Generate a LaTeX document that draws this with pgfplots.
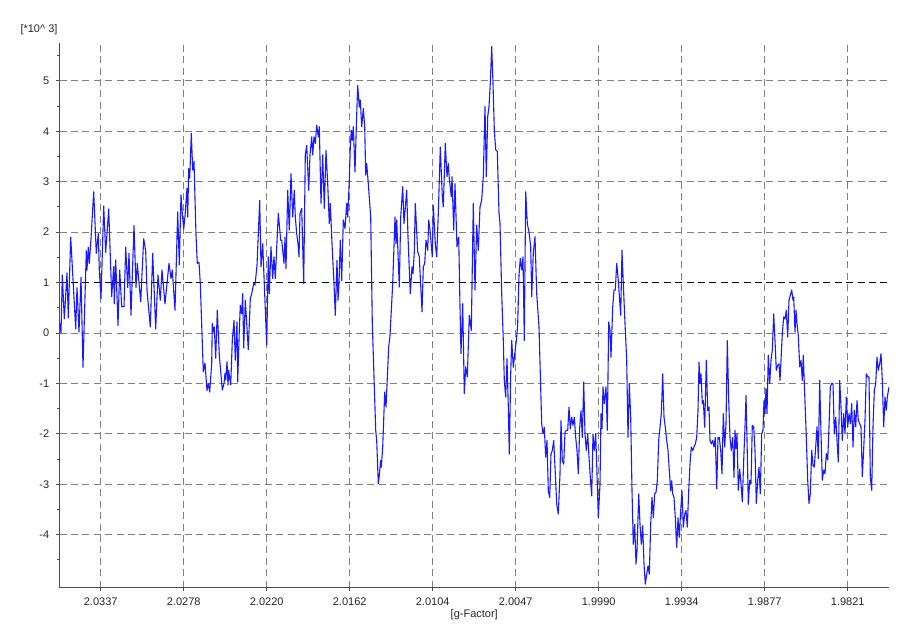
\documentclass[border=0pt]{standalone}
\usepackage{fontspec}
\setmainfont{Liberation Sans}
\usepackage{pgfplots}
\pgfplotsset{compat=1.18}
\definecolor{sig}{RGB}{25,25,255}
\begin{document}
\begin{tikzpicture}
\begin{axis}[
  scale only axis,
  width=414.75pt, height=272.35pt,
  xmin=0, xmax=829.5, ymin=-5.05, ymax=5.75,
  clip mode=individual,
  axis x line=bottom, axis y line=left,
  axis line style={-, black!70, line width=0.6pt},
  xtick={41.2,124.2,207.2,290.2,373.2,456.2,539.2,622.2,705.2,788.2},
  xticklabels={2.0337,2.0278,2.0220,2.0162,2.0104,2.0047,1.9990,1.9934,1.9877,1.9821},
  ytick={-4,-3,-2,-1,0,1,2,3,4,5},
  yticklabels={-4,-3,-2,-1,0,1,2,3,4,5},
  minor ytick={-4.5,-3.5,-2.5,-1.5,-0.5,0.5,1.5,2.5,3.5,4.5,5.5},
  tick align=outside, major tick length=1.6pt, minor tick length=1.3pt,
  tick style={black!70, line width=0.5pt},
  grid=major,
  major grid style={black!50, dash pattern=on 3.5pt off 2.2pt, line width=0.5pt},
  tick label style={font=\fontsize{5.5}{6.6}\selectfont, text=black!85},
  xlabel={[g-Factor]},
  xlabel style={font=\fontsize{5.5}{6.6}\selectfont, text=black!85, yshift=5pt},
]
\draw[black, dash pattern=on 3.5pt off 2.2pt, line width=0.5pt] (axis cs:0,1) -- (axis cs:829.5,1);
\addplot[color=sig, line width=0.55pt, line join=round, mark=none] table {
x y
0.5 0.19
1.5 0.00
2.8 1.15
4.8 0.28
7.5 1.19
8.8 0.30
11.2 1.90
16.2 0.08
17.5 0.90
19.5 0.02
21.5 1.10
23.5 -0.68
26.8 1.63
27.5 1.25
28.8 1.70
29.8 1.38
31.5 1.87
34.2 2.80
36.8 1.58
38.8 1.97
39.8 1.25
41.5 0.68
44.2 2.52
46.2 1.60
49.2 2.46
52.2 0.72
54.2 1.32
54.8 0.58
56.2 1.45
58.5 0.15
60.2 1.25
62.2 0.52
64.5 0.52
66.2 1.70
68.2 0.90
69.5 1.58
71.5 0.35
74.5 2.13
76.5 0.90
77.8 1.38
81.2 0.62
84.2 1.87
86.2 1.62
87.5 0.85
90.8 0.12
93.2 1.58
96.2 0.08
98.5 1.15
100.8 0.65
102.5 1.25
105.5 0.58
109.5 1.38
111.5 1.08
112.8 1.25
115.5 0.45
118.2 2.40
119.8 1.35
121.5 2.74
122.8 2.37
124.2 2.06
125.5 2.32
127.5 2.87
128.2 2.30
129.2 3.26
130.2 3.07
131.8 3.96
133.2 3.23
134.5 3.40
136.5 1.94
137.8 1.38
139.5 1.40
140.8 0.98
143.8 -0.77
145.5 -0.60
147.5 -1.14
148.8 -1.00
150.2 -1.17
152.2 -0.60
152.8 0.19
153.8 0.02
154.8 0.12
156.2 -0.50
157.8 0.45
159.8 -0.44
162.8 -1.13
164.5 -1.00
165.5 -0.80
166.2 -0.93
167.5 -0.57
168.5 -1.03
169.2 -0.74
170.2 -0.90
171.2 -1.03
172.8 -0.15
174.5 0.25
175.8 -0.54
177.5 0.22
178.2 -0.97
179.8 0.05
180.8 0.55
182.2 0.38
183.2 0.78
184.2 -0.30
185.8 0.65
188.8 -0.33
190.8 0.68
192.2 0.78
194.2 0.98
195.5 0.95
197.5 1.34
200.2 2.63
201.5 1.31
203.2 1.77
205.5 0.62
207.2 -0.24
208.8 1.51
209.8 0.78
211.5 1.71
213.2 1.08
214.5 1.51
215.8 1.08
218.8 2.37
221.2 1.84
222.2 1.84
224.5 1.38
225.5 1.90
226.5 1.28
228.2 2.83
229.8 2.04
231.5 3.16
233.2 2.30
234.8 2.83
235.8 2.30
237.2 1.97
238.5 1.77
239.5 1.51
240.5 2.37
242.2 2.47
244.2 0.98
245.8 3.53
247.2 3.72
249.2 2.83
250.5 3.53
252.2 3.89
253.2 3.53
254.5 3.89
255.8 3.76
257.2 4.12
258.8 3.89
259.8 4.09
261.5 2.57
263.2 3.53
264.8 2.47
266.5 3.62
268.2 2.96
269.8 2.17
270.8 2.57
272.5 1.77
274.5 0.98
275.8 0.35
277.5 1.44
278.5 0.65
279.5 0.98
280.8 1.84
282.2 1.04
283.8 2.24
285.5 2.07
287.2 2.57
288.2 2.30
289.8 3.03
290.8 3.69
291.8 4.02
292.8 3.82
293.8 4.09
295.5 3.19
296.8 4.09
298.2 4.91
299.8 4.48
300.8 4.62
302.2 4.09
303.8 4.45
305.2 4.09
306.2 3.13
307.2 3.36
308.8 2.96
311.2 2.30
312.8 0.19
316.2 -1.93
317.2 -2.13
318.8 -2.99
319.8 -2.82
321.2 -2.53
321.8 -2.66
323.2 -2.26
325.2 -1.17
326.5 -1.47
329.2 -0.28
330.5 -0.05
333.2 0.98
335.5 2.30
336.5 1.77
337.2 2.24
339.8 0.91
341.2 2.30
343.2 2.90
344.5 2.17
347.2 2.83
348.5 1.90
350.8 0.78
352.5 1.31
353.5 1.18
354.8 1.61
355.8 2.57
358.2 1.61
359.8 1.51
362.5 0.42
363.8 1.31
365.2 1.38
366.5 1.84
368.2 1.64
369.2 2.24
370.5 2.04
372.8 1.51
373.8 2.53
375.8 1.77
377.2 1.51
378.8 2.37
380.8 3.69
382.8 2.70
383.8 2.50
385.8 3.76
387.5 3.10
388.8 3.36
389.8 3.06
391.8 2.70
392.5 3.10
394.2 2.04
395.5 2.96
397.5 1.71
399.2 1.90
400.5 0.52
401.5 -0.41
403.2 0.58
404.8 -1.20
406.2 -0.67
407.8 -0.87
409.8 0.35
411.8 0.05
413.8 2.57
415.5 0.85
417.2 2.14
418.8 1.64
420.5 2.50
422.2 2.64
423.8 3.10
425.5 4.49
426.8 3.10
428.2 4.29
429.5 4.49
430.8 4.95
432.2 5.68
433.5 4.95
434.8 4.03
436.2 3.63
437.8 3.60
439.5 2.37
440.5 2.17
442.2 0.78
443.8 -0.15
444.8 -0.94
446.2 -1.27
447.5 -0.51
448.8 -1.47
449.8 -2.40
451.2 -0.81
452.2 -0.15
453.8 -0.68
455.5 -0.38
457.2 -0.08
458.2 0.19
459.5 1.15
460.8 1.48
462.2 1.25
463.5 1.51
464.8 -0.15
466.2 2.80
467.8 2.17
469.5 2.00
471.2 1.71
472.2 0.72
473.8 1.58
475.5 1.91
477.2 0.78
479.5 0.12
482.2 -1.80
483.5 -2.00
484.8 -1.87
486.2 -2.46
487.5 -2.13
488.8 -3.13
490.2 -3.26
491.5 -2.40
492.8 -2.33
494.2 -2.13
495.5 -2.66
497.2 -3.39
498.8 -3.59
500.5 -2.79
501.5 -1.74
502.8 -2.53
504.2 -2.60
505.5 -1.97
506.8 -1.93
508.2 -1.93
509.5 -1.47
510.8 -1.90
512.2 -1.67
513.5 -1.83
514.8 -1.67
516.2 -2.07
517.5 -2.33
518.8 -2.79
520.2 -1.87
521.5 -1.54
522.8 -2.07
524.2 -0.97
525.5 -2.00
526.8 -2.33
528.2 -2.00
529.5 -2.46
530.8 -2.86
532.2 -3.23
533.5 -2.00
534.8 -2.33
536.2 -2.00
537.5 -2.79
538.8 -3.66
540.5 -3.00
541.5 -1.60
542.5 -1.90
543.5 -1.07
544.8 -1.40
546.5 -1.07
547.8 -1.93
549.2 0.22
550.5 0.05
551.5 -0.48
553.2 0.52
554.5 0.85
555.8 0.85
557.2 1.38
558.5 1.11
559.8 0.75
561.2 0.35
562.5 1.64
563.8 0.98
565.2 0.32
567.2 -0.54
568.5 -2.07
569.8 -1.00
571.2 -1.67
572.5 -3.13
573.8 -4.19
575.2 -3.79
576.5 -4.58
577.5 -4.32
579.2 -3.19
580.5 -3.79
581.8 -4.19
583.2 -3.82
584.5 -4.58
585.8 -4.98
587.2 -4.78
588.5 -4.62
589.8 -4.78
591.2 -3.79
592.5 -3.26
593.8 -3.66
595.2 -3.19
596.5 -3.16
597.8 -2.93
599.2 -2.13
600.5 -1.87
601.8 -1.60
603.2 -0.81
604.5 -1.67
605.8 -1.87
607.2 -2.13
608.5 -2.33
609.8 -2.73
611.2 -3.13
612.2 -2.93
613.2 -3.19
614.5 -3.26
615.8 -3.66
617.2 -4.25
618.5 -3.66
619.8 -4.05
621.2 -3.52
622.5 -3.13
623.8 -3.85
625.2 -3.59
626.5 -3.52
627.8 -3.85
629.2 -3.13
630.5 -2.60
631.8 -2.26
633.2 -2.33
634.5 -2.26
635.8 -2.20
637.2 -2.07
638.5 -1.54
639.5 -0.58
640.5 -1.00
641.5 -0.81
642.8 -1.40
643.8 -1.34
645.2 -1.87
646.8 -0.54
648.2 -1.54
649.5 -1.47
650.5 -2.13
651.8 -2.20
653.2 -2.13
654.5 -2.26
655.8 -2.07
657.2 -3.09
658.5 -2.07
659.8 -2.07
661.2 -2.33
662.5 -2.79
663.8 -1.60
665.2 -2.26
666.5 -1.80
667.8 -0.15
669.2 -1.34
670.5 -2.07
671.8 -2.33
673.2 -2.07
674.5 -2.86
675.5 -1.93
676.5 -2.29
677.5 -2.00
678.8 -3.12
680.2 -2.70
681.5 -2.99
682.8 -3.35
684.2 -2.52
685.5 -1.86
686.5 -1.24
687.8 -2.39
688.8 -3.40
690.2 -2.92
691.5 -2.99
692.8 -1.83
694.2 -1.86
695.5 -2.33
696.8 -3.38
698.2 -2.92
699.5 -2.66
700.8 -3.19
702.2 -2.00
703.5 -1.93
704.5 -1.34
705.5 -1.60
706.5 -1.10
707.5 -1.60
708.8 -0.44
710.2 -1.00
711.5 -0.54
712.8 -0.34
714.2 0.38
715.5 -0.15
716.8 -0.74
718.2 -0.64
719.5 -0.61
720.5 -0.94
721.5 -0.54
722.8 -0.01
724.2 0.32
725.5 0.28
726.8 0.45
728.2 -0.08
729.5 0.65
730.8 0.75
732.2 0.85
733.5 0.65
734.2 0.71
735.5 0.02
736.5 0.45
737.5 0.19
738.8 -0.05
740.2 -0.67
741.5 -0.54
742.8 -0.94
743.8 -0.44
744.8 -1.00
746.8 -2.06
748.2 -2.92
749.5 -3.38
750.8 -3.19
752.2 -2.33
753.5 -2.62
754.8 -2.66
756.2 -2.26
757.5 -1.86
758.8 -2.49
760.2 -0.94
761.5 -2.00
762.8 -2.92
764.2 -2.72
765.5 -2.79
766.8 -2.39
768.2 -2.52
769.5 -1.86
770.8 -1.07
772.2 -1.00
773.5 -1.00
774.8 -2.00
776.2 -1.67
777.5 -2.13
778.8 -2.56
780.2 -0.94
781.5 -1.47
782.8 -2.13
784.2 -1.60
785.5 -2.00
786.8 -1.27
788.2 -1.86
789.5 -1.60
790.8 -1.80
792.2 -1.40
793.5 -2.26
794.8 -1.53
796.2 -1.86
797.5 -1.34
798.8 -1.73
800.2 -1.80
801.5 -1.86
802.8 -2.85
804.2 -2.29
805.5 -1.73
806.8 -0.81
808.2 -0.87
809.5 -0.87
810.8 -2.85
812.2 -3.12
813.5 -1.86
814.8 -1.14
816.2 -1.00
817.5 -0.48
818.8 -0.74
820.2 -0.61
821.5 -0.41
822.8 -0.94
824.2 -1.86
825.5 -1.27
826.8 -1.53
827.8 -1.27
829.5 -1.07
};
\node[font=\fontsize{5.5}{6.6}\selectfont, text=black!85, xshift=-10.25pt, yshift=6.5pt]
  at (rel axis cs:0,1) {[*10\textasciicircum\ 3]};
\end{axis}
\pgfresetboundingbox
\path (current axis.south west) ++(-29.75pt,-26.65pt) rectangle ++(450pt,320.5pt);
\end{tikzpicture}
\end{document}
